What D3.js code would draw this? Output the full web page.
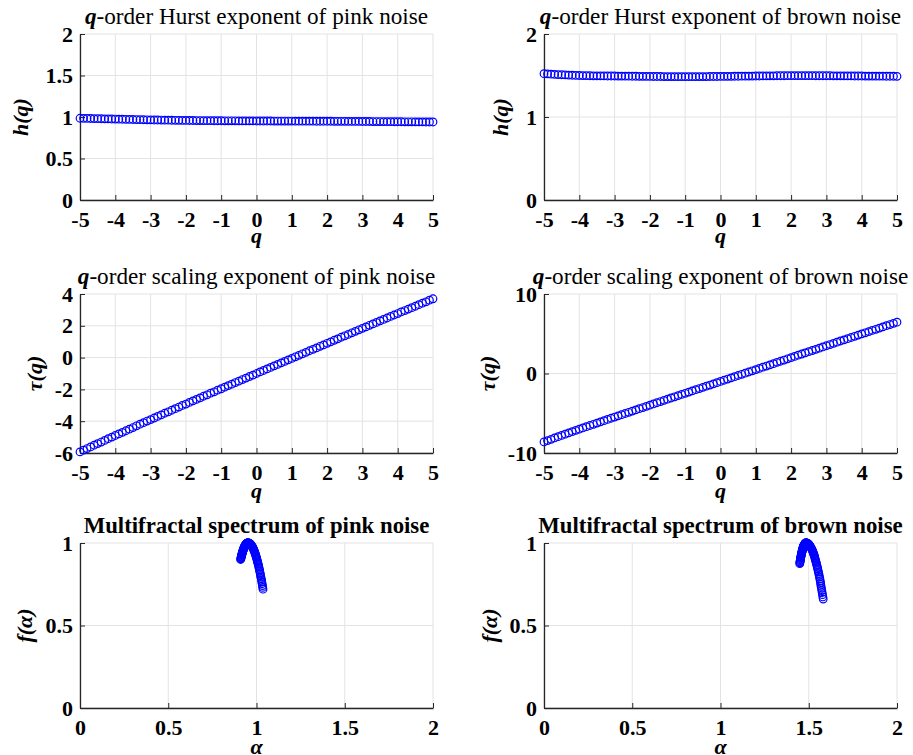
<!DOCTYPE html>
<html>
<head>
<meta charset="utf-8">
<script src="https://cdn.jsdelivr.net/npm/d3@7"></script>
<style>
  body { margin: 0; background: #fff; }
  text { font-family: "Liberation Serif", "Times New Roman", serif; }
</style>
</head>
<body>
<div id="canvas"></div>
<script>
"use strict"

let svgWidth = 913;
let svgHeight = 755;

/* q values (x axis of first two rows) */
let q = [
  -5.0,-4.9,-4.8,-4.7,-4.6,-4.5,-4.4,-4.3,-4.2,-4.1,
  -4.0,-3.9,-3.8,-3.7,-3.6,-3.5,-3.4,-3.3,-3.2,-3.1,
  -3.0,-2.9,-2.8,-2.7,-2.6,-2.5,-2.4,-2.3,-2.2,-2.1,
  -2.0,-1.9,-1.8,-1.7,-1.6,-1.5,-1.4,-1.3,-1.2,-1.1,
  -1.0,-0.9,-0.8,-0.7,-0.6,-0.5,-0.4,-0.3,-0.2,-0.1,
   0.0, 0.1, 0.2, 0.3, 0.4, 0.5, 0.6, 0.7, 0.8, 0.9,
   1.0, 1.1, 1.2, 1.3, 1.4, 1.5, 1.6, 1.7, 1.8, 1.9,
   2.0, 2.1, 2.2, 2.3, 2.4, 2.5, 2.6, 2.7, 2.8, 2.9,
   3.0, 3.1, 3.2, 3.3, 3.4, 3.5, 3.6, 3.7, 3.8, 3.9,
   4.0, 4.1, 4.2, 4.3, 4.4, 4.5, 4.6, 4.7, 4.8, 4.9,
   5.0
];

/* Hurst exponent h(q) */
let hPink = [
  0.985,0.984,0.983,0.982,0.981,0.980,0.979,0.978,0.977,0.976,
  0.975,0.974,0.973,0.972,0.971,0.970,0.969,0.968,0.967,0.966,
  0.965,0.964,0.964,0.963,0.962,0.962,0.961,0.960,0.960,0.959,
  0.959,0.958,0.958,0.957,0.957,0.956,0.956,0.956,0.955,0.955,
  0.955,0.954,0.954,0.954,0.954,0.953,0.953,0.953,0.953,0.953,
  0.952,0.952,0.952,0.952,0.952,0.951,0.951,0.951,0.951,0.951,
  0.951,0.950,0.950,0.950,0.950,0.950,0.950,0.949,0.949,0.949,
  0.949,0.949,0.948,0.948,0.948,0.948,0.947,0.947,0.947,0.947,
  0.946,0.946,0.946,0.945,0.945,0.945,0.944,0.944,0.944,0.943,
  0.943,0.943,0.942,0.942,0.942,0.941,0.941,0.941,0.940,0.940,
  0.940
];
let hBrown = [
  1.522,1.519,1.516,1.513,1.511,1.509,1.507,1.505,1.503,1.501,
  1.500,1.499,1.498,1.497,1.496,1.496,1.495,1.495,1.494,1.494,
  1.494,1.493,1.493,1.492,1.492,1.491,1.491,1.490,1.490,1.489,
  1.489,1.488,1.488,1.488,1.487,1.487,1.487,1.486,1.486,1.486,
  1.486,1.486,1.486,1.486,1.487,1.487,1.487,1.488,1.488,1.488,
  1.489,1.489,1.490,1.490,1.491,1.491,1.492,1.492,1.493,1.493,
  1.494,1.494,1.495,1.495,1.496,1.496,1.497,1.497,1.497,1.498,
  1.498,1.498,1.498,1.498,1.498,1.498,1.498,1.497,1.497,1.497,
  1.497,1.497,1.496,1.496,1.496,1.495,1.495,1.495,1.494,1.494,
  1.494,1.493,1.493,1.493,1.492,1.492,1.492,1.491,1.491,1.491,
  1.490
];

/* scaling exponent tau(q) */
let tauPink = [
  -5.93,-5.82,-5.72,-5.62,-5.51,-5.41,-5.31,-5.21,-5.10,-5.00,
  -4.90,-4.80,-4.70,-4.60,-4.50,-4.40,-4.29,-4.19,-4.09,-3.99,
  -3.90,-3.80,-3.70,-3.60,-3.50,-3.41,-3.31,-3.21,-3.11,-3.01,
  -2.92,-2.82,-2.72,-2.63,-2.53,-2.43,-2.34,-2.24,-2.15,-2.05,
  -1.96,-1.86,-1.76,-1.67,-1.57,-1.48,-1.38,-1.29,-1.19,-1.10,
  -1.00,-0.90,-0.81,-0.71,-0.62,-0.52,-0.43,-0.33,-0.24,-0.14,
  -0.05, 0.05, 0.14, 0.24, 0.33, 0.43, 0.52, 0.61, 0.71, 0.80,
   0.90, 0.99, 1.09, 1.18, 1.28, 1.37, 1.46, 1.56, 1.65, 1.75,
   1.84, 1.93, 2.03, 2.12, 2.21, 2.31, 2.40, 2.49, 2.59, 2.68,
   2.77, 2.87, 2.96, 3.05, 3.14, 3.23, 3.33, 3.42, 3.51, 3.61,
   3.70
];
let tauBrown = [
  -8.61,-8.44,-8.28,-8.11,-7.95,-7.79,-7.63,-7.47,-7.31,-7.15,
  -7.00,-6.85,-6.69,-6.54,-6.39,-6.24,-6.08,-5.93,-5.78,-5.63,
  -5.48,-5.33,-5.18,-5.03,-4.88,-4.73,-4.58,-4.43,-4.28,-4.13,
  -3.98,-3.83,-3.68,-3.53,-3.38,-3.23,-3.08,-2.93,-2.78,-2.63,
  -2.49,-2.34,-2.19,-2.04,-1.89,-1.74,-1.59,-1.45,-1.30,-1.15,
  -1.00,-0.85,-0.70,-0.55,-0.40,-0.25,-0.10, 0.04, 0.19, 0.34,
   0.49, 0.64, 0.79, 0.94, 1.09, 1.24, 1.40, 1.54, 1.69, 1.85,
   2.00, 2.15, 2.30, 2.45, 2.60, 2.75, 2.89, 3.04, 3.19, 3.34,
   3.49, 3.64, 3.79, 3.94, 4.09, 4.23, 4.38, 4.53, 4.68, 4.83,
   4.98, 5.12, 5.27, 5.42, 5.56, 5.71, 5.86, 6.01, 6.16, 6.31,
   6.45
];

/* multifractal spectrum: singularity exponent alpha and f(alpha) */
let alphaPink = [
  1.037,1.035,1.034,1.032,1.030,1.029,1.027,1.025,1.023,1.022,
  1.020,1.018,1.017,1.015,1.013,1.012,1.010,1.008,1.006,1.005,
  1.003,1.001,1.000,0.998,0.996,0.995,0.993,0.991,0.989,0.988,
  0.986,0.984,0.983,0.981,0.979,0.978,0.976,0.974,0.972,0.971,
  0.969,0.967,0.966,0.964,0.962,0.961,0.959,0.957,0.955,0.954,
  0.952,0.951,0.950,0.949,0.949,0.948,0.947,0.946,0.945,0.944,
  0.944,0.943,0.942,0.941,0.940,0.939,0.939,0.938,0.937,0.936,
  0.935,0.934,0.934,0.933,0.932,0.931,0.930,0.929,0.928,0.928,
  0.927,0.926,0.925,0.924,0.923,0.923,0.922,0.921,0.920,0.919,
  0.918,0.918,0.917,0.916,0.915,0.914,0.913,0.913,0.912,0.911,
  0.910
];
let fPink = [
  0.720,0.731,0.742,0.753,0.763,0.773,0.783,0.793,0.802,0.812,
  0.821,0.830,0.838,0.847,0.855,0.863,0.871,0.878,0.885,0.892,
  0.899,0.906,0.912,0.918,0.924,0.930,0.935,0.941,0.946,0.951,
  0.955,0.960,0.964,0.968,0.971,0.975,0.978,0.981,0.984,0.986,
  0.989,0.991,0.993,0.995,0.996,0.997,0.998,0.999,1.000,1.000,
  1.000,1.000,1.000,1.000,0.999,0.999,0.999,0.998,0.997,0.997,
  0.996,0.995,0.994,0.993,0.992,0.991,0.990,0.988,0.987,0.986,
  0.984,0.982,0.981,0.979,0.977,0.975,0.973,0.971,0.969,0.966,
  0.964,0.962,0.959,0.956,0.954,0.951,0.948,0.945,0.942,0.939,
  0.936,0.933,0.929,0.926,0.923,0.919,0.915,0.912,0.908,0.904,
  0.900
];
let alphaBrown = [
  1.582,1.580,1.578,1.576,1.574,1.572,1.570,1.568,1.567,1.565,
  1.563,1.561,1.559,1.557,1.555,1.553,1.551,1.549,1.547,1.545,
  1.543,1.541,1.539,1.537,1.535,1.534,1.532,1.530,1.528,1.526,
  1.524,1.522,1.520,1.518,1.516,1.514,1.512,1.510,1.508,1.506,
  1.504,1.502,1.501,1.499,1.497,1.495,1.493,1.491,1.489,1.487,
  1.485,1.484,1.484,1.483,1.482,1.481,1.481,1.480,1.479,1.479,
  1.478,1.477,1.476,1.476,1.475,1.474,1.473,1.473,1.472,1.471,
  1.471,1.470,1.469,1.468,1.468,1.467,1.466,1.466,1.465,1.464,
  1.463,1.463,1.462,1.461,1.461,1.460,1.459,1.458,1.458,1.457,
  1.456,1.455,1.455,1.454,1.453,1.453,1.452,1.451,1.450,1.450,
  1.449
];
let fBrown = [
  0.660,0.673,0.687,0.700,0.712,0.725,0.737,0.749,0.760,0.771,
  0.782,0.793,0.804,0.814,0.824,0.833,0.843,0.852,0.861,0.869,
  0.878,0.886,0.893,0.901,0.908,0.915,0.922,0.928,0.934,0.940,
  0.946,0.951,0.956,0.961,0.965,0.969,0.973,0.977,0.980,0.984,
  0.986,0.989,0.991,0.993,0.995,0.997,0.998,0.999,0.999,1.000,
  1.000,1.000,1.000,1.000,0.999,0.999,0.998,0.998,0.997,0.996,
  0.995,0.994,0.993,0.992,0.990,0.989,0.987,0.986,0.984,0.982,
  0.980,0.978,0.976,0.974,0.971,0.969,0.966,0.964,0.961,0.958,
  0.955,0.952,0.949,0.946,0.942,0.939,0.935,0.932,0.928,0.924,
  0.920,0.916,0.912,0.908,0.903,0.899,0.894,0.890,0.885,0.880,
  0.875
];

/* tick values */
let qTicks = [-5, -4, -3, -2, -1, 0, 1, 2, 3, 4, 5];
let alphaTicks = [0, 0.5, 1, 1.5, 2];
let hPinkTicks = [0, 0.5, 1, 1.5, 2];
let hBrownTicks = [0, 1, 2];
let tauPinkTicks = [-6, -4, -2, 0, 2, 4];
let tauBrownTicks = [-10, 0, 10];
let fTicks = [0, 0.5, 1];

/* panel layout: left/right columns, three rows */
let cols = [[80, 433], [544, 897]];
let rows = [[34, 200], [294, 453], [543, 708]];
let xLabelGap = [43, 45, 46];

let panels = [
  {col: 0, row: 0, x: q, y: hPink, xDom: [-5, 5], yDom: [0, 2], xt: qTicks, yt: hPinkTicks,
   qTitle: true, title: "-order Hurst exponent of pink noise", xl: "q", yl: "h(q)", ylGap: 52},
  {col: 1, row: 0, x: q, y: hBrown, xDom: [-5, 5], yDom: [0, 2], xt: qTicks, yt: hBrownTicks,
   qTitle: true, title: "-order Hurst exponent of brown noise", xl: "q", yl: "h(q)", ylGap: 36},
  {col: 0, row: 1, x: q, y: tauPink, xDom: [-5, 5], yDom: [-6, 4], xt: qTicks, yt: tauPinkTicks,
   qTitle: true, title: "-order scaling exponent of pink noise", xl: "q", yl: "\u03C4(q)", ylGap: 38},
  {col: 1, row: 1, x: q, y: tauBrown, xDom: [-5, 5], yDom: [-10, 10], xt: qTicks, yt: tauBrownTicks,
   qTitle: true, title: "-order scaling exponent of brown noise", xl: "q", yl: "\u03C4(q)", ylGap: 49},
  {col: 0, row: 2, x: alphaPink, y: fPink, xDom: [0, 2], yDom: [0, 1], xt: alphaTicks, yt: fTicks,
   qTitle: false, title: "Multifractal spectrum of pink noise", xl: "\u03B1", yl: "f(\u03B1)", ylGap: 48},
  {col: 1, row: 2, x: alphaBrown, y: fBrown, xDom: [0, 2], yDom: [0, 1], xt: alphaTicks, yt: fTicks,
   qTitle: false, title: "Multifractal spectrum of brown noise", xl: "\u03B1", yl: "f(\u03B1)", ylGap: 47}
];

let serif = "'Liberation Serif', 'Times New Roman', serif";
let tickSize = 22;
let titleSize = 23.2;
let boldTitleSize = 22.8;
let labelSize = 22;
let axisColor = "#262626";
let gridColor = "#e3e3e3";

let svg = d3.select("#canvas")
    .append("svg")
    .attr("width", svgWidth)
    .attr("height", svgHeight);

svg.append("rect")
    .attr("width", svgWidth)
    .attr("height", svgHeight)
    .attr("fill", "white");

panels.forEach(function(p) {
    let [x0, x1] = cols[p.col];
    let [y0, y1] = rows[p.row];

    let xScale = d3.scaleLinear().domain(p.xDom).range([x0, x1]);
    let yScale = d3.scaleLinear().domain(p.yDom).range([y1, y0]);

    let g = svg.append("g");

    /* grid */
    g.selectAll("line.vgrid")
        .data(p.xt)
        .join("line")
        .attr("class", "vgrid")
        .attr("x1", d => xScale(d)).attr("x2", d => xScale(d))
        .attr("y1", y0).attr("y2", y1)
        .attr("stroke", gridColor)
        .attr("stroke-width", 1);

    g.selectAll("line.hgrid")
        .data(p.yt)
        .join("line")
        .attr("class", "hgrid")
        .attr("x1", x0).attr("x2", x1)
        .attr("y1", d => yScale(d)).attr("y2", d => yScale(d))
        .attr("stroke", gridColor)
        .attr("stroke-width", 1);

    /* axes, ticks pointing inward */
    let xAxis = g.append("g")
        .attr("transform", "translate(0," + y1 + ")")
        .call(d3.axisBottom(xScale).tickValues(p.xt).tickSize(-5).tickSizeOuter(0)
              .tickPadding(11).tickFormat(d => String(d)));

    let yAxis = g.append("g")
        .attr("transform", "translate(" + x0 + ",0)")
        .call(d3.axisLeft(yScale).tickValues(p.yt).tickSize(-5).tickSizeOuter(0)
              .tickPadding(7).tickFormat(d => String(d)));

    [xAxis, yAxis].forEach(function(ax) {
        ax.attr("font-family", serif).attr("font-size", tickSize).attr("font-weight", "bold");
        ax.select(".domain").attr("stroke", axisColor).attr("stroke-width", 1.3);
        ax.selectAll(".tick line").attr("stroke", axisColor).attr("stroke-width", 1);
        ax.selectAll(".tick text")
            .attr("fill", "black")
            .style("font-family", serif)
            .style("font-size", tickSize + "px")
            .style("font-weight", "bold");
    });

    /* data markers */
    let pts = p.x.map((v, i) => ({x: v, y: p.y[i]}));
    g.selectAll("circle.dataPoint")
        .data(pts)
        .join("circle")
        .attr("class", "dataPoint")
        .attr("cx", d => xScale(d.x))
        .attr("cy", d => yScale(d.y))
        .attr("r", 3.8)
        .attr("fill", "none")
        .attr("stroke", "#0000ff")
        .attr("stroke-width", 1.2);

    /* title */
    let title = g.append("text")
        .attr("x", (x0 + x1) / 2)
        .attr("y", y0 - 10)
        .attr("text-anchor", "middle")
        .style("font-family", serif);
    if (p.qTitle) {
        title.style("font-size", titleSize + "px");
        title.append("tspan").attr("font-weight", "bold").attr("font-style", "italic").text("q");
        title.append("tspan").text(p.title);
    } else {
        title.style("font-size", boldTitleSize + "px")
            .attr("font-weight", "bold").text(p.title);
    }

    /* axis labels */
    g.append("text")
        .attr("x", (x0 + x1) / 2)
        .attr("y", y1 + xLabelGap[p.row])
        .attr("text-anchor", "middle")
        .attr("font-weight", "bold")
        .attr("font-style", "italic")
        .style("font-family", serif)
        .style("font-size", labelSize + "px")
        .text(p.xl);

    g.append("text")
        .attr("transform", "translate(" + (x0 - p.ylGap) + "," + ((y0 + y1) / 2) + ") rotate(-90)")
        .attr("text-anchor", "middle")
        .attr("font-weight", "bold")
        .attr("font-style", "italic")
        .style("font-family", serif)
        .style("font-size", labelSize + "px")
        .text(p.yl);
});
</script>
</body>
</html>
